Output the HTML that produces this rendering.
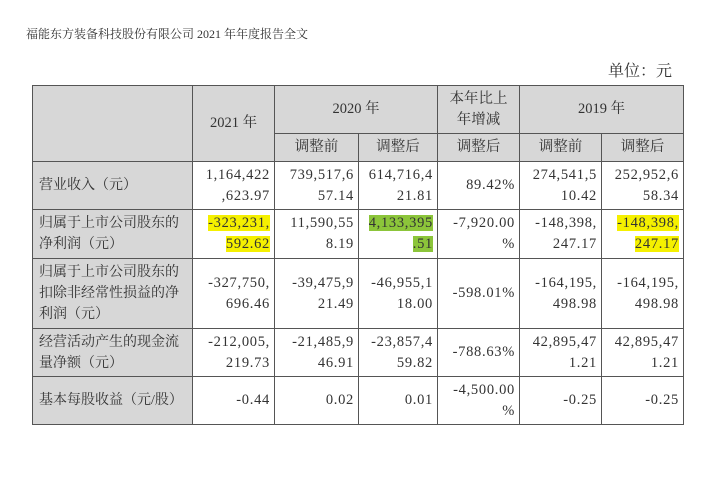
<!DOCTYPE html>
<html><head><meta charset="utf-8">
<style>
body{margin:0;width:720px;height:485px;background:#fff;position:relative;overflow:hidden;font-family:"Liberation Serif","Noto Serif CJK SC",serif;color:#333}
.c{position:absolute;box-sizing:border-box;border:1px solid #555;display:flex;flex-direction:column;justify-content:center;font-size:14.5px;line-height:21px;white-space:nowrap}
.c>div{display:block}
.g{background:#d7d7d7}
.r{align-items:flex-end;padding-right:4px;text-align:right;letter-spacing:0.7px}
.m{align-items:center;text-align:center}
.l{align-items:flex-start;padding-left:6px;font-size:14px;text-align:left}
.y{background:#f5f000}
.gr{background:#8cc53a}
</style></head><body>
<div style="position:absolute;left:26px;top:25px;font-size:12px;">福能东方装备科技股份有限公司 2021 年年度报告全文</div>
<div style="position:absolute;left:608px;top:58px;font-size:16px;">单位：元</div>
<div id="t"></div>
<script>
const xs=[32,192,274,358,437,519,601,683];
const ys=[85,133,161,209,258,328,376,424];
const t=document.getElementById('t');
function cell(c0,c1,r0,r1,html,cls,name){
 const d=document.createElement('div');
 d.className='c '+cls;
 d.style.left=xs[c0]+'px';d.style.top=ys[r0]+'px';
 d.style.width=(xs[c1]-xs[c0]+1)+'px';d.style.height=(ys[r1]-ys[r0]+1)+'px';
 d.innerHTML='<div>'+html+'</div>';
 
 
 t.appendChild(d);
}
cell(0,1,0,2,'','g','header-blank');
cell(1,2,0,2,'2021 年','g m','header-2021');
cell(2,4,0,1,'2020 年','g m','header-2020');
cell(4,5,0,1,'本年比上<br>年增减','g m','header-change');
cell(5,7,0,1,'2019 年','g m','header-2019');
cell(2,3,1,2,'调整前','g m','header-2020-before');
cell(3,4,1,2,'调整后','g m','header-2020-after');
cell(4,5,1,2,'调整后','g m','header-change-after');
cell(5,6,1,2,'调整前','g m','header-2019-before');
cell(6,7,1,2,'调整后','g m','header-2019-after');
const labels=['营业收入（元）','归属于上市公司股东的<br>净利润（元）','归属于上市公司股东的<br>扣除非经常性损益的净<br>利润（元）','经营活动产生的现金流<br>量净额（元）','基本每股收益（元/股）'];
const vals=[
['1,164,422<br>,623.97','739,517,6<br>57.14','614,716,4<br>21.81','89.42%','274,541,5<br>10.42','252,952,6<br>58.34'],
['<span class="y">-323,231,</span><br><span class="y">592.62</span>','11,590,55<br>8.19','<span class="gr">4,133,395</span><br><span class="gr">.51</span>','-7,920.00<br>%','-148,398,<br>247.17','<span class="y">-148,398,</span><br><span class="y">247.17</span>'],
['-327,750,<br>696.46','-39,475,9<br>21.49','-46,955,1<br>18.00','-598.01%','-164,195,<br>498.98','-164,195,<br>498.98'],
['-212,005,<br>219.73','-21,485,9<br>46.91','-23,857,4<br>59.82','-788.63%','42,895,47<br>1.21','42,895,47<br>1.21'],
['-0.44','0.02','0.01','-4,500.00<br>%','-0.25','-0.25']];
for(let i=0;i<5;i++){
 cell(0,1,2+i,3+i,labels[i],'g l','row-label-'+(i+1));
 for(let j=0;j<6;j++) cell(1+j,2+j,2+i,3+i,vals[i][j],'r','cell-r'+(i+1)+'-c'+(j+1));
}
</script>
</body></html>
